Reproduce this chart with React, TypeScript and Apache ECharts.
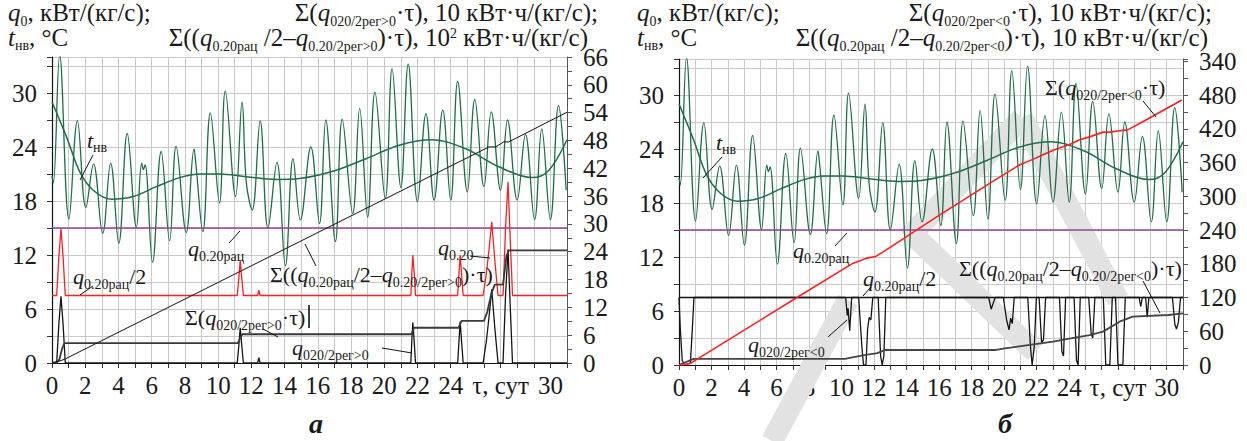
import React, { useEffect, useRef } from 'react';
import * as echarts from 'echarts';

const FONT = "'Liberation Serif', 'Times New Roman', serif";
const TXT = '#1a1a1a';
const GREEN = '#1f6e47';
const RED = '#ff1f1f';
const PURPLE = '#94408f';
const GRIDC = '#c9c9c9';

// ---------- data ----------
// outdoor temperature t_нв, °C (daily oscillation)
const tempTau = [0, 0.08, 0.46, 1.02, 1.53, 2.04, 2.5, 3.05, 3.53, 4.02, 4.53, 5.08, 5.4, 5.5, 5.6, 6.05, 6.57, 7.08, 7.47, 8.08, 8.55, 8.65, 9.08, 9.53, 10.08, 10.43, 11.05, 11.44, 11.7, 12.05, 12.53, 13.0, 13.54, 14.05, 14.51, 14.95, 15.58, 16.1, 16.48, 17.06, 17.47, 18.1, 18.52, 19.0, 19.44, 20.06, 20.47, 21.0, 21.44, 22.0, 22.51, 23.0, 23.52, 24.0, 24.42, 25.0, 25.45, 26.0, 26.44, 27.0, 27.42, 28.0, 28.5, 29.05, 29.48, 30.0, 30.49, 30.95];
const tempVal = [20.8, 20.0, 34.2, 16.0, 26.9, 17.3, 22.1, 14.4, 22.2, 13.3, 25.5, 15.1, 22.2, 21.5, 22.0, 11.2, 23.5, 13.6, 24.1, 14.5, 23.8, 22.3, 14.6, 27.8, 17.8, 30.2, 18.5, 29.0, 20.0, 17.0, 26.9, 15.0, 22.3, 10.8, 22.7, 15.9, 24.0, 15.5, 27.0, 13.5, 27.1, 16.6, 28.3, 16.2, 30.1, 18.3, 32.7, 19.5, 33.2, 17.9, 27.7, 18.1, 28.1, 18.1, 31.3, 19.0, 29.3, 19.6, 27.9, 19.2, 27.0, 18.1, 25.4, 15.9, 26.0, 15.9, 28.6, 19.2];
// smoothed temperature trend
const trendTau = [0, 0.88, 1.68, 2.48, 3.58, 4.88, 6.29, 7.69, 8.89, 10.1, 11.7, 13.5, 14.9, 16.9, 18.9, 20.9, 22.9, 24.9, 26.9, 28.9, 29.9, 31];
const trendVal = [29.0, 25.1, 21.2, 19.2, 18.2, 18.5, 19.6, 20.6, 21.0, 21.0, 20.7, 20.4, 20.5, 21.3, 22.7, 24.2, 24.8, 23.8, 21.8, 20.6, 21.4, 24.8];
const qRac = 15;      // q0.20рац
const qRacHalf = 7.5; // q0.20рац/2
// panel а: q0.20 (red) and q020/2рег>0 (black)
const posTau = [0, 0.28, 0.42, 0.54, 0.66, 0.8, 11.15, 11.25, 11.33, 11.42, 11.52, 12.38, 12.45, 12.52, 21.6, 21.66, 21.72, 21.8, 21.88, 24.42, 24.5, 24.57, 24.65, 24.75, 25.95, 26.15, 26.3, 26.47, 26.65, 26.85, 27.15, 27.3, 27.45, 27.6, 27.72, 31];
const posRed = [7.5, 7.5, 12, 14.9, 12, 7.5, 7.5, 9.5, 11.4, 9.5, 7.5, 7.5, 8.1, 7.5, 7.5, 10, 12.0, 10, 7.5, 7.5, 10, 12.0, 10, 7.5, 7.5, 10, 12.5, 15.7, 11.5, 7.5, 7.5, 15, 20.1, 13, 7.5, 7.5];
const posBlack = [0, 0, 4.5, 7.4, 4.5, 0, 0, 2, 3.9, 2, 0, 0, 0.6, 0, 0, 2.5, 4.5, 2.5, 0, 0, 2.5, 4.6, 2.5, 0, 0, 2.5, 5, 8.2, 4, 0, 0, 7.5, 12.6, 5.5, 0, 0];
// Σ(q020/2рег>0·τ), right axis
const cumPosTau = [0, 0.3, 0.45, 0.6, 0.75, 11.2, 11.3, 11.45, 21.62, 21.8, 24.47, 24.65, 26.0, 26.2, 26.45, 26.65, 27.15, 27.35, 27.5, 31];
const cumPosVal = [0, 0.2, 0.8, 3, 4.3, 4.3, 5.2, 6.2, 6.2, 7.6, 7.6, 9.1, 9.1, 11, 15, 16.9, 16.9, 23, 24.3, 24.3];
// Σ((q0.20рац/2 − q0.20/2рег>0)·τ), right axis
const diagPosTau = [0, 0.35, 0.75, 26.3, 26.7, 27.2, 27.5, 31];
const diagPosVal = [0, 0.3, 0.8, 46.6, 46.6, 47.7, 47.7, 54.1];
// panel б: q020/2рег<0 (black)
const negTau = [0, 0.08, 0.2, 0.35, 0.7, 0.82, 0.92, 10.25, 10.35, 10.4, 10.5, 10.62, 11.05, 11.25, 11.35, 11.5, 11.6, 11.7, 11.8, 11.92, 12.25, 12.4, 12.5, 12.6, 12.72, 19.05, 19.2, 19.35, 19.45, 19.95, 20.15, 20.3, 20.4, 20.5, 20.62, 21.45, 21.62, 21.72, 21.85, 21.98, 22.15, 22.3, 22.42, 22.55, 23.4, 23.55, 23.65, 23.78, 24.3, 24.45, 24.55, 24.68, 25.2, 25.35, 25.45, 25.58, 26.1, 26.25, 26.5, 26.65, 26.85, 27.0, 27.3, 27.45, 28.3, 28.4, 28.5, 28.7, 28.8, 28.9, 30.35, 30.5, 30.6, 30.72, 30.85, 31];
const negVal = [7.5, 4, 0.5, 0, 0.2, 4, 7.5, 7.5, 5.5, 6.3, 3.8, 7.5, 7.5, 2, 0, 0, 4, 5.3, 5.0, 7.5, 7.5, 1, 0, 1, 7.5, 7.5, 6.2, 7.0, 7.5, 7.5, 5, 3.9, 5.2, 4.6, 7.5, 7.5, 2, 0, 2, 7.5, 7.5, 2.5, 2.8, 7.5, 7.5, 1.5, 1.0, 7.5, 7.5, 0.5, 0, 7.5, 7.5, 3.5, 3.0, 7.5, 7.5, 0, 0, 7.5, 7.5, 0, 0, 7.5, 7.5, 6.5, 7.5, 7.5, 5.3, 7.5, 7.5, 4.5, 4.0, 4.8, 7.5, 7.5];
// Σ(q020/2рег<0·τ), right axis (red)
const cumNegTau = [0, 0.3, 0.7, 7.03, 10.71, 11.1, 11.54, 12.1, 12.56, 16.04, 19.5, 20.96, 21.8, 22.5, 23.2, 24.03, 24.6, 25.3, 26.08, 26.5, 27.0, 27.6, 28.5, 30.93];
const cumNegVal = [0, 0.5, 3, 116, 181, 185, 190, 193, 201, 267, 330, 356, 366, 375, 384, 392, 400, 406, 414, 414, 416, 418, 432, 471];
// Σ((q0.20рац/2 − q0.20/2рег<0)·τ), right axis (grey)
const diagNegTau = [0, 0.9, 10.2, 11.3, 12.2, 12.66, 19.5, 20.04, 21.57, 23.0, 24.44, 25.26, 26.08, 27.1, 27.9, 30.1, 31];
const diagNegVal = [0, 10.9, 10.9, 17, 21, 26.7, 26.7, 29.6, 35.6, 41.5, 49.2, 53.3, 59.3, 77, 86, 88.9, 91.9];

const tauMin = 0, tauMax = 31;
const leftMin = 0, leftMax = 34;
const rightAMax = 66, rightBMax = 544;
const skipX = [26, 28];
const tauLabel = 'τ, сут';

const zip = (a: number[], b: number[]) => a.map((v, i) => [v, b[i]]);

// ---------- rich text helper ----------
let _ctx: CanvasRenderingContext2D | null = null;
function tw(t: string, size: number, italic: boolean, bold: boolean) {
  if (!_ctx) _ctx = document.createElement('canvas').getContext('2d');
  _ctx!.font = `${italic ? 'italic ' : ''}${bold ? 'bold ' : ''}${size}px ${FONT}`;
  return _ctx!.measureText(t).width;
}
type Frag = { t: string; s?: number; dy?: number; i?: boolean; b?: boolean };
let MAIN = 25, SUB = 14;
function rich(x: number, base: number, frags: Frag[], align = 'left', color = TXT) {
  const ws = frags.map(f => tw(f.t, f.s ?? MAIN, !!f.i, !!f.b));
  const total = ws.reduce((a, b) => a + b, 0);
  let cx = align === 'right' ? x - total : align === 'center' ? x - total / 2 : x;
  const els: any[] = [];
  frags.forEach((f, k) => {
    const size = f.s ?? MAIN;
    els.push({
      type: 'text', x: cx, y: base + (f.dy ?? 0) - 0.34 * size, silent: true, z: 100,
      style: {
        text: f.t, fontSize: size, fontFamily: FONT,
        fontStyle: f.i ? 'italic' : 'normal', fontWeight: f.b ? 'bold' : 'normal',
        fill: color, align: 'left', verticalAlign: 'middle',
      },
    });
    cx += ws[k];
  });
  return els;
}
const L = (x1: number, y1: number, x2: number, y2: number, w = 1) => ({
  type: 'line', shape: { x1, y1, x2, y2 }, style: { stroke: '#111', lineWidth: w }, silent: true, z: 100,
});
const WM = (x1: number, y1: number, x2: number, y2: number) => ({
  type: 'line', shape: { x1, y1, x2, y2 }, style: { stroke: '#e2e2e2', lineWidth: 22, lineCap: 'butt' }, silent: true, z: 1,
});

const q = (sub: string): Frag[] => [{ t: 'q', i: true }, { t: sub, s: SUB, dy: 5 }];

function buildGraphics() {
  const g: any[] = [];
  // faint watermark strokes over panel б
  g.push(WM(1022, 118, 1118, 300), WM(1022, 118, 908, 238), WM(910, 232, 1035, 352), WM(772, 441, 848, 300));
  // ---------- headers (larger type)
  MAIN = 25; SUB = 14;
  g.push(...rich(8, 21, [...q('0'), { t: ', кВт/(кг/с);' }]));
  g.push(...rich(8, 46, [{ t: 't', i: true }, { t: 'нв', s: SUB, dy: 4 }, { t: ', °C' }]));
  g.push(...rich(598, 21, [{ t: 'Σ(' }, ...q('020/2рег>0'), { t: '·τ), 10 кВт·ч/(кг/с);' }], 'right'));
  g.push(...rich(588, 46, [{ t: 'Σ((' }, ...q('0.20рац'), { t: ' /2–' }, ...q('0.20/2рег>0'), { t: ')·τ), 10' }, { t: '2', s: 14, dy: -8 }, { t: ' кВт·ч/(кг/с)' }], 'right'));
  g.push(...rich(637, 21, [...q('0'), { t: ', кВт/(кг/с);' }]));
  g.push(...rich(637, 46, [{ t: 't', i: true }, { t: 'нв', s: SUB, dy: 4 }, { t: ', °C' }]));
  g.push(...rich(1212, 21, [{ t: 'Σ(' }, ...q('020/2рег<0'), { t: '·τ), 10 кВт·ч/(кг/с);' }], 'right'));
  g.push(...rich(1208, 46, [{ t: 'Σ((' }, ...q('0.20рац'), { t: ' /2–' }, ...q('0.20/2рег<0'), { t: ')·τ), 10 кВт·ч/(кг/с)' }], 'right'));
  // ---------- annotations inside plots (smaller type)
  MAIN = 22; SUB = 14;
  // panel а
  g.push(...rich(87, 148, [{ t: 't', i: true }, { t: 'нв', s: SUB, dy: 4 }]), L(93, 155, 80, 180));
  g.push(...rich(188, 256, q('0.20рац')), L(240, 231, 229, 243));
  g.push(...rich(73, 284, [...q('0.20рац'), { t: '/2' }]), L(80, 295, 93, 286));
  g.push(...rich(270, 282, [{ t: 'Σ((' }, ...q('0.20рац'), { t: '/2–' }, ...q('0.20/2рег>0'), { t: ')·τ)' }]), L(305, 244, 316, 266));
  g.push(...rich(438, 255, q('0.20')), L(470, 256, 490, 258));
  g.push(...rich(185, 325, [{ t: 'Σ(' }, ...q('020/2рег>0'), { t: '·τ)' }]), L(263, 329, 278, 337), L(309, 305, 309, 328, 1.6));
  g.push(...rich(292, 355, q('020/2рег>0')), L(382, 348, 412, 353));
  // panel б
  g.push(...rich(716, 150, [{ t: 't', i: true }, { t: 'нв', s: SUB, dy: 4 }]), L(722, 157, 703, 178));
  g.push(...rich(793, 258, q('0.20рац')), L(847, 233, 835, 246));
  g.push(...rich(863, 286, [...q('0.20рац'), { t: '/2' }]), L(863, 296, 870, 288));
  g.push(...rich(959, 276, [{ t: 'Σ((' }, ...q('0.20рац'), { t: '/2–' }, ...q('0.20/2рег<0'), { t: ')·τ)' }]), L(1143, 281, 1160, 313));
  g.push(...rich(1045, 95, [{ t: 'Σ(' }, ...q('020/2рег<0'), { t: '·τ)' }]), L(1143, 101, 1156, 117));
  g.push(...rich(748, 352, q('020/2рег<0')), L(828, 337, 847, 320));
  // panel letters
  g.push(...rich(316, 433, [{ t: 'а', s: 28, i: true, b: true }], 'center'));
  g.push(...rich(1005, 433, [{ t: 'б', s: 28, i: true, b: true }], 'center'));
  return g;
}

const axisLabelStyle = { fontFamily: FONT, fontSize: 25, color: TXT };

function xAxis(gridIndex: number) {
  return {
    type: 'value', gridIndex, min: tauMin, max: tauMax, interval: 1,
    axisLine: { lineStyle: { color: '#111', width: 1.2 } },
    axisTick: { show: true, length: 5, lineStyle: { color: '#333' } },
    splitLine: { show: true, lineStyle: { color: GRIDC, width: 1 } },
    axisLabel: {
      ...axisLabelStyle, margin: 10, interval: 0,
      formatter: (v: number) => {
        if (v === 27) return tauLabel;
        if (v % 2 === 0 && v <= 30 && skipX.indexOf(v) < 0) return String(v);
        return '';
      },
    },
  };
}
function leftAxis(gridIndex: number) {
  return {
    type: 'value', gridIndex, position: 'left', min: leftMin, max: leftMax, interval: 3,
    axisLine: { show: true, lineStyle: { color: '#111', width: 1.2 } },
    axisTick: { show: true, length: 5, lineStyle: { color: '#333' } },
    splitLine: { show: true, lineStyle: { color: GRIDC, width: 1 } },
    axisLabel: { ...axisLabelStyle, margin: 15, formatter: (v: number) => (v % 6 === 0 && v <= 30 ? String(v) : '') },
  };
}
function rightAxis(gridIndex: number, max: number, interval: number, step: number, rename: Record<number, string>) {
  return {
    type: 'value', gridIndex, position: 'right', min: 0, max, interval,
    axisLine: { show: true, lineStyle: { color: '#555', width: 1 } },
    axisTick: { show: true, length: 5, lineStyle: { color: '#555' } },
    splitLine: { show: false },
    axisLabel: {
      ...axisLabelStyle, margin: 16, align: 'left',
      formatter: (v: number) => (v % step === 0 ? (rename[v] ?? String(v)) : ''),
    },
  };
}

function line(name: string, data: number[][], xi: number, yi: number, color: string, width: number, smooth: number | boolean = false, z = 2) {
  return {
    name, type: 'line', xAxisIndex: xi, yAxisIndex: yi, data, smooth, showSymbol: false, symbol: 'none',
    lineStyle: { color, width }, z, silent: true,
  };
}

export default function App() {
  const ref = useRef<HTMLDivElement>(null);
  useEffect(() => {
    if (!ref.current) return;
    const chart = echarts.init(ref.current, undefined, { renderer: 'svg' });
    const temp = zip(tempTau, tempVal);
    const trend = zip(trendTau, trendVal);
    const purple = [[tauMin, qRac], [tauMax, qRac]];
    const half = [[tauMin, qRacHalf], [tauMax, qRacHalf]];
    chart.setOption({
      animation: false,
      backgroundColor: '#fff',
      grid: [
        { left: 52, top: 57, width: 515, height: 306 },
        { left: 679, top: 59, width: 504, height: 306 },
      ],
      xAxis: [xAxis(0), xAxis(1)],
      yAxis: [
        leftAxis(0),
        rightAxis(0, rightAMax, 3, 6, {}),
        leftAxis(1),
        rightAxis(1, rightBMax, 30, 60, { 540: '340' }),
      ],
      series: [
        // panel а
        line('temp-a', temp, 0, 0, GREEN, 1.3, 0.4),
        line('trend-a', trend, 0, 0, GREEN, 1.5, 0.35),
        line('qrac-a', purple, 0, 0, PURPLE, 1.6),
        line('q020-red', zip(posTau, posRed), 0, 0, RED, 1.3, false, 3),
        line('q020pos', zip(posTau, posBlack), 0, 0, '#151515', 1.3, false, 3),
        line('cumPos', zip(cumPosTau, cumPosVal), 0, 1, '#3a3a3a', 1.8, false, 3),
        line('diagPos', zip(diagPosTau, diagPosVal), 0, 1, '#111', 1.0, false, 3),
        // panel б
        line('temp-b', temp, 1, 2, GREEN, 1.3, 0.4),
        line('trend-b', trend, 1, 2, GREEN, 1.5, 0.35),
        line('qrac-b', purple, 1, 2, PURPLE, 1.6),
        line('half-b', half, 1, 2, '#151515', 1.5, false, 3),
        line('q020neg', zip(negTau, negVal), 1, 2, '#151515', 1.3, false, 3),
        line('cumNeg', zip(cumNegTau, cumNegVal), 1, 3, RED, 1.6, false, 4),
        line('diagNeg', zip(diagNegTau, diagNegVal), 1, 3, '#444', 1.8, false, 3),
      ],
      graphic: buildGraphics(),
    });
    return () => chart.dispose();
  }, []);
  return <div ref={ref} style={{ position: 'fixed', left: 0, top: 0, width: 1247, height: 441, background: '#fff' }} />;
}
